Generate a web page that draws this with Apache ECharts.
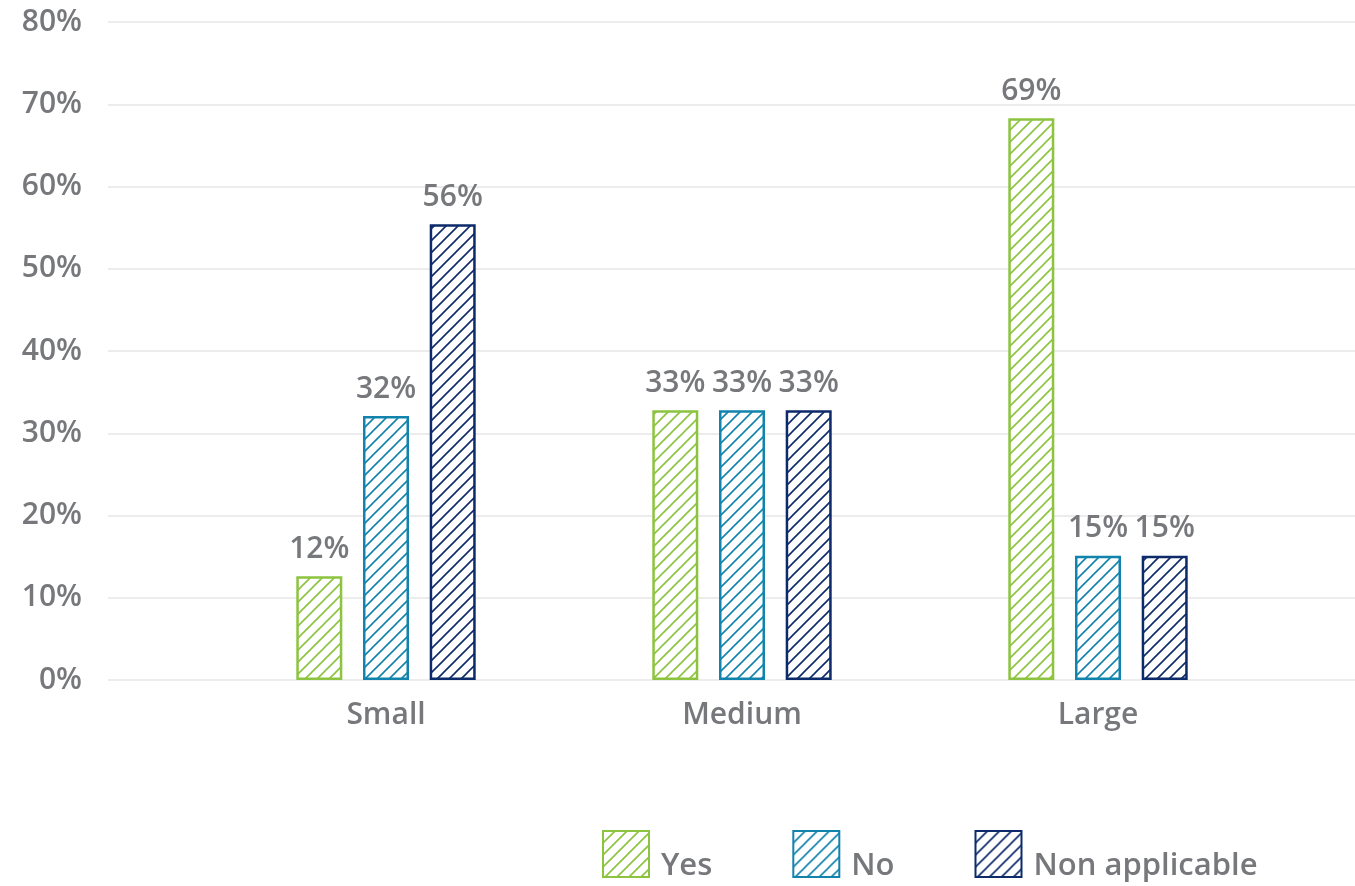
<!DOCTYPE html>
<html>
<head>
<meta charset="utf-8">
<script src="https://cdn.jsdelivr.net/npm/echarts@6/dist/echarts.min.js"></script>
<style>html,body{margin:0;padding:0;background:#fff}#c{width:1355px;height:886px}</style>
</head>
<body>
<div id="c"></div>
<script>
const categories = ['Small', 'Medium', 'Large'];
const seriesNames = ['Yes', 'No', 'Non applicable'];
const yesValues = [12.6, 32.8, 68.3];
const noValues = [32.1, 32.8, 15.1];
const naValues = [55.4, 32.8, 15.1];
const yesLabels = ['12%', '33%', '69%'];
const noLabels = ['32%', '33%', '15%'];
const naLabels = ['56%', '33%', '15%'];
const yTicks = [0, 10, 20, 30, 40, 50, 60, 70, 80];
const colors = ['#8cc43f', '#1283ad', '#0d2a6a'];

function hatch(color) {
  const s = 12;
  const c = document.createElement('canvas');
  c.width = s; c.height = s;
  const g = c.getContext('2d');
  g.fillStyle = '#fff';
  g.fillRect(0, 0, s, s);
  g.strokeStyle = color;
  g.lineWidth = 1.6;
  g.beginPath();
  g.moveTo(-2, s + 2); g.lineTo(s + 2, -2);
  g.moveTo(-2, 2); g.lineTo(2, -2);
  g.moveTo(s - 2, s + 2); g.lineTo(s + 2, s - 2);
  g.stroke();
  return { image: c, repeat: 'repeat' };
}

const font = '"Open Sans", sans-serif';
const gray = '#76787b';
const values = [yesValues, noValues, naValues];
const labels = [yesLabels, noLabels, naLabels];

const chart = echarts.init(document.getElementById('c'));
chart.setOption({
  animation: false,
  textStyle: { fontFamily: font },
  grid: [
    { left: 108, right: 0, top: 22, bottom: 206 },
    { left: 208, right: 79, top: 22, bottom: 206 }
  ],
  xAxis: [
    { gridIndex: 0, type: 'category', data: categories, show: false },
    {
      gridIndex: 1, type: 'category', data: categories,
      axisLine: { show: false }, axisTick: { show: false },
      axisLabel: { color: gray, fontSize: 30, fontWeight: 600, margin: 20, fontFamily: font }
    }
  ],
  yAxis: [
    {
      gridIndex: 0, type: 'value', min: yTicks[0], max: yTicks[yTicks.length - 1], interval: 10,
      axisLine: { show: false }, axisTick: { show: false },
      splitLine: { lineStyle: { color: '#ececec', width: 2 } },
      axisLabel: { color: gray, fontSize: 30, fontWeight: 600, margin: 26, fontFamily: font, formatter: '{value}%' }
    },
    {
      gridIndex: 1, type: 'value', min: yTicks[0], max: yTicks[yTicks.length - 1], interval: 10,
      show: false, splitLine: { show: false }
    }
  ],
  legend: {
    left: 597, top: 825,
    itemWidth: 46, itemHeight: 46, itemGap: 80,
    icon: 'rect',
    formatter: '{t|{name}}',
    textStyle: {
      color: gray, fontSize: 31, fontWeight: 600, fontFamily: font,
      rich: { t: { color: gray, fontSize: 31, fontWeight: 600, fontFamily: font, padding: [24, 0, 0, 7] } }
    },
    data: seriesNames
  },
  series: seriesNames.map((name, i) => ({
    name: name,
    type: 'bar',
    xAxisIndex: 1, yAxisIndex: 1,
    barWidth: 46, barGap: '45%',
    data: values[i],
    itemStyle: { color: hatch(colors[i]), borderColor: colors[i], borderWidth: 2.5 },
    label: {
      show: true, position: 'top', distance: 12,
      color: gray, fontSize: 30, fontWeight: 600, fontFamily: font,
      formatter: p => labels[i][p.dataIndex]
    }
  }))
});
</script>
</body>
</html>
